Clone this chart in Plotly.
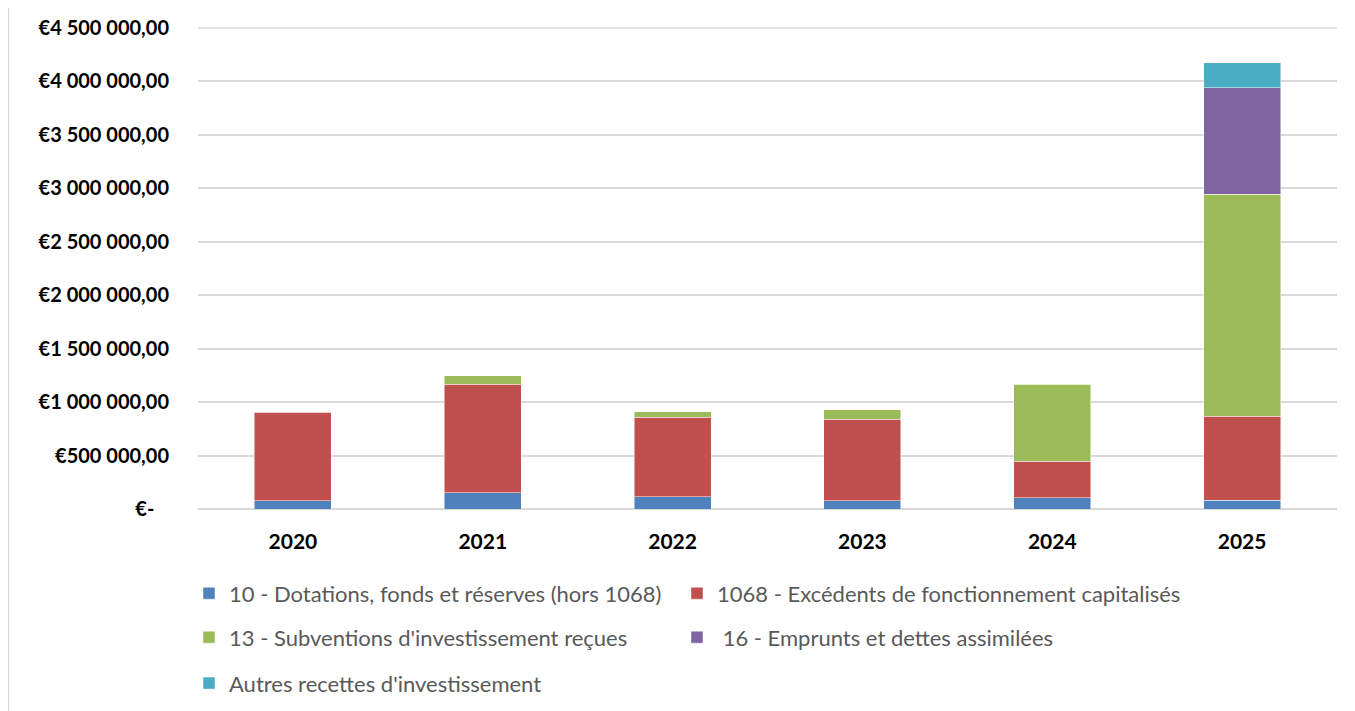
import plotly.graph_objects as go

years = ["2020", "2021", "2022", "2023", "2024", "2025"]
dotations = [78000, 152000, 115000, 75000, 106000, 84000]
excedents = [825000, 1016000, 745000, 766000, 343000, 782000]
subventions = [9000, 81000, 56000, 94000, 719000, 2081000]
emprunts = [0, 0, 0, 0, 5000, 993000]
autres = [0, 0, 0, 0, 0, 234000]

tick_vals = [0, 500000, 1000000, 1500000, 2000000, 2500000, 3000000, 3500000, 4000000, 4500000]
tick_text = ["€-\u00a0\u00a0\u00a0", "€500 000,00", "€1 000 000,00", "€1 500 000,00", "€2 000 000,00",
             "€2 500 000,00", "€3 000 000,00", "€3 500 000,00", "€4 000 000,00", "€4 500 000,00"]

# (name, values, colour, legend id, legend text left x (screen px), legend row centre y (screen px))
series = [
    ("10 - Dotations, fonds et réserves (hors 1068)", dotations, "#4f81bd", "legend", 228, 594),
    ("1068 - Excédents de fonctionnement capitalisés", excedents, "#c0504d", "legend2", 716, 594),
    ("13 - Subventions d'investissement reçues", subventions, "#9bbb59", "legend3", 228, 638),
    (" 16 - Emprunts et dettes assimilées", emprunts, "#8064a2", "legend4", 716, 638),
    ("Autres recettes d'investissement", autres, "#4bacc6", "legend5", 228, 684),
]

FONT = "Lato"
OFF = 8  # page body margin
W, H = 1355, 711
# screen-space plot area: x 198..1337, y 28..509.5
L = 198 - OFF
T = 28 - OFF
R = W - (1337 - OFF)
B = H - (509.5 - OFF)
pw, ph = W - L - R, H - T - B

def sx(px):
    return (px - OFF - L) / pw

def sy(py):
    return (H - B - (py - OFF)) / ph

fig = go.Figure()
legends = {}
for name, vals, color, lg, tx, ty in series:
    fig.add_trace(go.Bar(
        x=years, y=vals, name=name, legend=lg,
        marker=dict(color=color, line=dict(color="rgba(255,255,255,0.6)", width=0.8)),
    ))
    legends[lg] = dict(
        x=sx(tx - 39), y=sy(ty), xanchor="left", yanchor="middle",
        orientation="h",
        font=dict(family=FONT, size=22, color="#595959"),
        bgcolor="rgba(0,0,0,0)",
    )

fig.update_layout(
    barmode="stack",
    bargap=0.595,
    width=W, height=H,
    margin=dict(l=L, r=R, t=T, b=B, pad=0, autoexpand=False),
    plot_bgcolor="white", paper_bgcolor="white",
    font=dict(family=FONT, color="#000000"),
    xaxis=dict(
        tickfont=dict(family=FONT, size=21, color="#000000", weight="bold"),
        showgrid=False, showline=False, ticks="", ticklabelstandoff=18,
    ),
    yaxis=dict(
        range=[0, 4500000],
        tickvals=tick_vals, ticktext=tick_text,
        tickfont=dict(family=FONT, size=20, color="#000000", weight="bold"),
        showgrid=True, gridcolor="#d9d9d9", gridwidth=1.5,
        zeroline=True, zerolinecolor="#d9d9d9", zerolinewidth=1.5,
        showline=False, ticks="", ticklabelstandoff=28,
    ),
    showlegend=True,
    shapes=[
        dict(type="line", xref="paper", yref="paper",
             x0=sx(8.5), x1=sx(8.5), y0=sy(0), y1=sy(720),
             line=dict(color="#d9d9d9", width=1.5)),
        dict(type="line", xref="paper", yref="paper",
             x0=0, x1=1, y0=1, y1=1, layer="below",
             line=dict(color="#d9d9d9", width=1.5)),
    ],
    **legends,
)

fig.write_html("out.html")
